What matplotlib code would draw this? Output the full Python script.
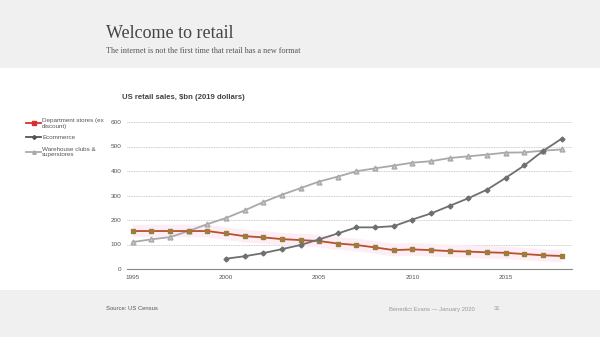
import matplotlib
matplotlib.use("Agg")
import matplotlib.pyplot as plt
from matplotlib.lines import Line2D
from matplotlib.patches import Rectangle

# データ
years = list(range(1995, 2019))
dept_stores = [155, 155, 155, 155, 155, 145, 134, 129, 122, 118, 114, 104,
               98, 88, 77, 80, 77, 73, 71, 68, 66, 61, 56, 53]
ecom_years = list(range(2000, 2019))
ecommerce = [42, 52, 65, 81, 98, 121, 145, 170, 170, 175, 202, 227,
             258, 289, 324, 372, 423, 482, 532]
warehouse = [110, 121, 130, 155, 183, 208, 239, 273, 303, 330, 357, 377,
             399, 411, 422, 434, 440, 453, 460, 467, 475, 476, 483, 488]
yticks = [0, 100, 200, 300, 400, 500, 600]
xticks = [1995, 2000, 2005, 2010, 2015]
labels = ['Department stores (ex\ndiscount)', 'Ecommerce', 'Warehouse clubs &\nsuperstores']

plt.rcParams['font.family'] = ['Liberation Sans', 'DejaVu Sans']

fig = plt.figure(figsize=(6, 3.37), dpi=100)
fig.patch.set_facecolor('white')

# 上下のグレー帯
fig.patches.append(Rectangle((0, 1 - 68/337), 1, 68/337, transform=fig.transFigure,
                             facecolor='#f0f0f0', edgecolor='none', zorder=0))
fig.patches.append(Rectangle((0, 0), 1, 47/337, transform=fig.transFigure,
                             facecolor='#f0f0f0', edgecolor='none', zorder=0))

fig.text(106/600, 1 - 34/337, 'Welcome to retail', family='Liberation Serif',
         fontsize=13, color='#444444', va='center')
fig.text(106/600, 1 - 51/337, 'The internet is not the first time that retail has a new format',
         family='Liberation Serif', fontsize=5.9, color='#555555', va='center')
fig.text(122/600, 1 - 97/337, 'US retail sales, $bn (2019 dollars)', fontsize=5.6,
         fontweight='bold', color='#444444', va='center')
fig.text(106/600, 1 - 309/337, 'Source: US Census', fontsize=4.2, color='#555555', va='center')
fig.text(475/600, 1 - 309/337, 'Benedict Evans — January 2020', fontsize=4.2,
         color='#999999', va='center', ha='right')
fig.text(497/600, 1 - 309/337, '31', fontsize=4.2, color='#999999', va='center', ha='center')

ax = fig.add_axes([127/600, 1 - 269/337, 445/600, 147/337])
ax.set_facecolor('white')

# ピンクのハイライト
ax.plot(years, dept_stores, color='#fdeef5', lw=9, solid_capstyle='butt', zorder=1)
ax.plot(years, dept_stores, color='#b8502c', lw=1.3, marker='s', ms=3.5,
        mfc='#9b7d3c', mec='#9b7d3c', zorder=3, clip_on=False)
ax.plot(ecom_years, ecommerce, color='#6f6f6f', lw=1.3, marker='D', ms=2.5,
        mfc='#6f6f6f', mec='#6f6f6f', zorder=4, clip_on=False)
ax.plot(years, warehouse, color='#a9a9a9', lw=1.3, marker='^', ms=3.5,
        mfc='#c8c8c8', mec='#a9a9a9', zorder=2, clip_on=False)

ax.set_xlim(1994.7, 2018.55)
ax.set_ylim(0, 600)
ax.set_yticks(yticks)
ax.set_xticks(xticks)
ax.grid(axis='y', color='#bbbbbb', linestyle=(0, (1, 1)), lw=0.6)
ax.set_axisbelow(True)
for s in ['top', 'right', 'left']:
    ax.spines[s].set_visible(False)
ax.spines['bottom'].set_color('#888888')
ax.spines['bottom'].set_linewidth(0.8)
ax.tick_params(axis='both', length=0, labelsize=4.6, labelcolor='#555555', pad=4)

handles = [
    Line2D([], [], color='#d83030', lw=1.3, marker='s', ms=2.5),
    Line2D([], [], color='#555555', lw=1.3, marker='D', ms=2),
    Line2D([], [], color='#aaaaaa', lw=1.3, marker='^', ms=2.5),
]
leg = fig.legend(handles, labels, loc='upper left', bbox_to_anchor=(26/600, 1 - 118/337),
                 frameon=False, fontsize=4.5, handlelength=2.4, handletextpad=0.2,
                 labelspacing=1.0, borderpad=0, borderaxespad=0)
for t in leg.get_texts():
    t.set_color('#555555')

fig.savefig('out.png', dpi=100)
